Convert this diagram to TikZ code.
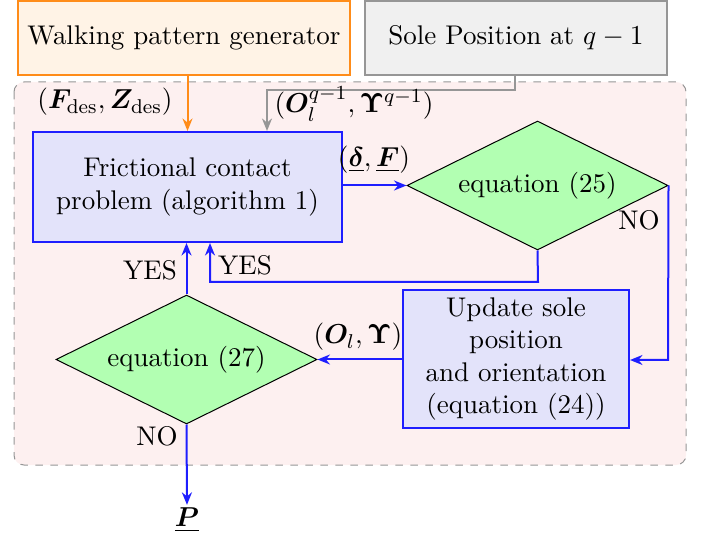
\documentclass[tikz,border=0pt]{standalone}
\usepackage{amsmath}
\usepackage{bm}
\usetikzlibrary{shapes.geometric,arrows.meta}
\definecolor{bblue}{RGB}{30,30,255}
\definecolor{borange}{RGB}{255,140,25}
\definecolor{bgray}{RGB}{150,150,150}
\definecolor{lavfill}{RGB}{227,227,250}
\definecolor{greenfill}{RGB}{178,255,178}
\definecolor{pinkfill}{RGB}{253,240,240}
\definecolor{orfill}{RGB}{255,243,230}
\definecolor{grayfill}{RGB}{240,240,240}
\begin{document}
\begin{tikzpicture}[x=0.4pt,y=-0.4pt,font=\fontsize{10.8}{12.9}\selectfont,
  procbox/.style={draw=bblue,line width=0.8pt,fill=lavfill,align=center,inner sep=0pt},
  decbox/.style={diamond,aspect=2,draw=black,line width=0.4pt,fill=greenfill,inner sep=0pt,minimum width=104.4pt,minimum height=51.6pt},
  flow/.style={draw=bblue,line width=0.8pt,-{Stealth[length=5pt,width=4pt]}},
  lbl/.style={inner sep=1pt}]
\useasboundingbox (0,0) rectangle (705,538);
\fill[pinkfill,draw=bgray,dashed,rounded corners=4pt,line width=0.4pt] (14,82) rectangle (686,465);
\node[draw=borange,line width=0.8pt,fill=orfill,minimum width=132.8pt,minimum height=29.6pt,inner sep=0pt] (wpg) at (184,38) {Walking pattern generator};
\node[draw=bgray,line width=0.8pt,fill=grayfill,minimum width=120.8pt,minimum height=29.6pt,inner sep=0pt] (sole) at (516,38) {Sole Position at $q-1$};
\node[procbox,minimum width=123.6pt,minimum height=44pt] (fcp) at (187.5,187) {Frictional contact\\problem (algorithm 1)};
\node[decbox] (eq25) at (537.5,185.5) {equation (25)};
\node[procbox,minimum width=90.4pt,minimum height=55.2pt] (upd) at (516,359) {Update sole\\position\\and orientation\\(equation (24))};
\node[decbox] (eq27) at (186.5,359.5) {equation (27)};
\node[inner sep=1pt] (P) at (187,520) {$\underline{\bm{P}}$};
\coordinate (g1) at (515,90);
\coordinate (g2) at (267,90);
\coordinate (n1) at (668,360);
\coordinate (y1) at (538,282);
\coordinate (y2) at (210,282);
% connectors
\draw[draw=borange,line width=0.8pt,-{Stealth[length=5pt,width=4pt]}] (wpg.south -| fcp.north) -- (fcp.north);
\draw[draw=bgray,line width=0.8pt,-{Stealth[length=5pt,width=4pt]}] (sole.south -| g1) -- (g1) -- (g2) -- (g2 |- fcp.north);
\draw[flow] (fcp.east |- eq25.west) -- (eq25.west);
\draw[flow] (eq25.east) -- (n1) -- (upd.east |- n1);
\draw[flow] (eq25.south) -- (y1) -- (y2) -- (y2 |- fcp.south);
\draw[flow] (upd.west |- eq27.east) -- (eq27.east);
\draw[flow] (eq27.north) -- (eq27.north |- fcp.south);
\draw[flow] (eq27.south) -- (P.north);
% labels
\node[lbl] (l1) at (105,102) {$(\bm{F}_{\mathrm{des}},\bm{Z}_{\mathrm{des}})$};
\node[lbl] (l2) at (354,104) {$(\bm{O}_l^{q-1},\bm{\Upsilon}^{q-1})$};
\node[lbl] (l3) at (374,160) {$(\underline{\bm{\delta}},\underline{\bm{F}})$};
\node[lbl] (l4) at (639,220) {NO};
\node[lbl] (l5) at (245,265) {YES};
\node[lbl] (l6) at (150,270) {YES};
\node[lbl] (l7) at (358,337) {$(\bm{O}_l,\bm{\Upsilon})$};
\node[lbl] (l8) at (157,436) {NO};
\end{tikzpicture}
\end{document}
